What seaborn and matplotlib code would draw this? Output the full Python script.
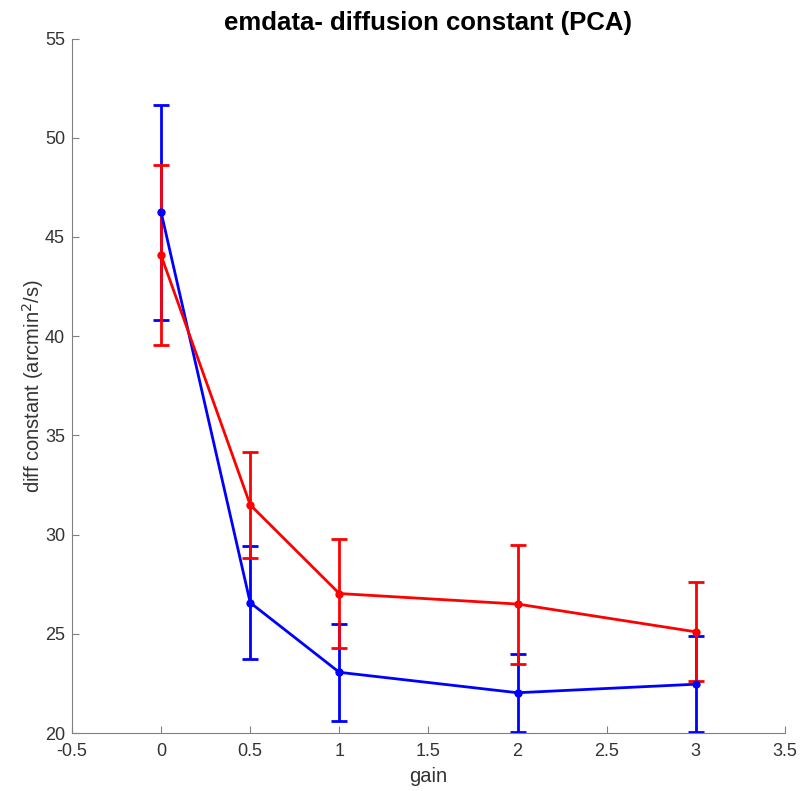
import matplotlib
matplotlib.use("Agg")
import matplotlib.pyplot as plt
import seaborn as sns
import pandas as pd

gain = [0, 0.5, 1, 2, 3]
blue_mean = [46.25, 26.57, 23.06, 22.03, 22.46]
blue_err = [5.42, 2.86, 2.45, 1.97, 2.41]
red_mean = [44.07, 31.50, 27.03, 26.50, 25.10]
red_err = [4.54, 2.66, 2.73, 3.00, 2.50]

sns.set_style("white")
plt.rcParams['font.family'] = ['Liberation Sans', 'DejaVu Sans']

df = pd.DataFrame({
    "gain": gain * 2,
    "value": blue_mean + red_mean,
    "series": ["blue"] * len(gain) + ["red"] * len(gain),
})

fig = plt.figure(figsize=(8, 7.91), dpi=100)
ax = fig.add_axes([0.09, 0.0733, 0.891, 0.878])

sns.lineplot(data=df, x="gain", y="value", hue="series",
             palette={"blue": "#0000ff", "red": "#ff0000"},
             marker="o", markersize=6, markeredgewidth=0, linewidth=2,
             legend=False, ax=ax, zorder=3)
ax.errorbar(gain, blue_mean, yerr=blue_err, fmt="none", ecolor="#0000ff",
            elinewidth=2, capsize=6, capthick=2, zorder=2)
ax.errorbar(gain, red_mean, yerr=red_err, fmt="none", ecolor="#ff0000",
            elinewidth=2, capsize=6, capthick=2, zorder=2)

ax.set_xlim(-0.5, 3.5)
ax.set_ylim(20, 55)
ax.set_xticks([-0.5, 0, 0.5, 1, 1.5, 2, 2.5, 3, 3.5])
ax.set_xticklabels(["-0.5", "0", "0.5", "1", "1.5", "2", "2.5", "3", "3.5"])
ax.set_yticks([20, 25, 30, 35, 40, 45, 50, 55])

for s in ["top", "right"]:
    ax.spines[s].set_visible(False)
for s in ["left", "bottom"]:
    ax.spines[s].set_color("#808080")
    ax.spines[s].set_linewidth(0.8)
ax.tick_params(direction="in", length=5, width=0.8, color="#808080",
               labelsize=13, labelcolor="#333333", left=True, bottom=True)
ax.tick_params(axis="x", pad=7)
ax.tick_params(axis="y", pad=5)

ax.set_xlabel("gain", fontsize=14.5, color="#333333", labelpad=5)
ax.set_ylabel("diff constant (arcmin$^2$/s)", fontsize=14.5, color="#333333", labelpad=-1)
ax.set_title("emdata- diffusion constant (PCA)", fontsize=18.5, fontweight="bold",
             pad=6, color="black")

fig.savefig("out.png", dpi=100)
